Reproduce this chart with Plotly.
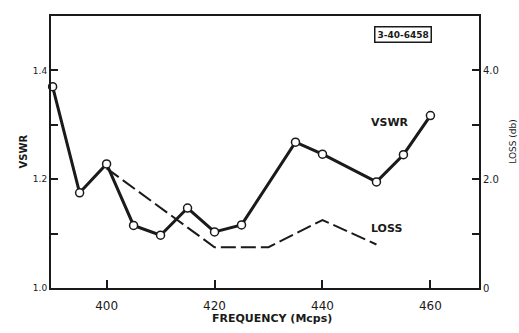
import plotly.graph_objects as go

# Data
freq_vswr = [390, 395, 400, 405, 410, 415, 420, 425, 435, 440, 450, 455, 460]
vswr = [1.37, 1.175, 1.228, 1.115, 1.097, 1.147, 1.103, 1.116, 1.268, 1.246, 1.195, 1.245, 1.317]

freq_loss = [400, 420, 430, 440, 450]
loss_db = [2.2, 0.75, 0.75, 1.25, 0.8]

x_ticks = [400, 420, 440, 460]
y_ticks = [1.0, 1.1, 1.2, 1.3, 1.4]
y_ticktext = ["1.0", "", "1.2", "", "1.4"]
y2_ticks = [0, 1, 2, 3, 4]
y2_ticktext = ["0", "", "2.0", "", "4.0"]

INK = "#1a1a1a"
FONT = "DejaVu Sans"

fig = go.Figure()
fig.add_trace(go.Scatter(
    x=freq_loss, y=loss_db, yaxis="y2", mode="lines",
    line=dict(color=INK, width=2, dash="15px,5px"),
    hoverinfo="skip", showlegend=False,
))
fig.add_trace(go.Scatter(
    x=freq_vswr, y=vswr, mode="lines+markers",
    line=dict(color=INK, width=3),
    marker=dict(symbol="circle", size=8, color="white",
                line=dict(color=INK, width=1.5)),
    cliponaxis=False, showlegend=False,
))

fig.update_layout(
    width=519, height=333,
    margin=dict(l=51, r=40, t=16, b=45),
    paper_bgcolor="white", plot_bgcolor="white",
    font=dict(family=FONT, color=INK),
    xaxis=dict(range=[389.7, 469], tickvals=x_ticks, color=INK,
               ticks="inside", ticklen=8, tickwidth=1.5, tickcolor=INK,
               showline=True, linecolor=INK, linewidth=2, mirror=True,
               showgrid=False, zeroline=False, ticklabelstandoff=6,
               tickfont=dict(size=12, color=INK)),
    yaxis=dict(range=[1.0, 1.5], tickvals=y_ticks, ticktext=y_ticktext, color=INK,
               ticks="inside", ticklen=7, tickwidth=1.5, tickcolor=INK,
               showline=True, linecolor=INK, linewidth=2,
               showgrid=False, zeroline=False,
               tickfont=dict(size=9, color=INK)),
    yaxis2=dict(range=[0, 5], tickvals=y2_ticks, ticktext=y2_ticktext, color=INK,
                overlaying="y", side="right",
                ticks="inside", ticklen=7, tickwidth=1.5, tickcolor=INK,
                showline=True, linecolor=INK, linewidth=2,
                showgrid=False, zeroline=False,
                tickfont=dict(size=10, color=INK)),
)

anns = [
    dict(text="<b>VSWR</b>", xref="paper", yref="paper", x=-0.084, y=0.5,
         textangle=-90, showarrow=False, font=dict(size=10, color=INK)),
    dict(text="LOSS (db)", xref="paper", yref="paper", x=1.095, y=0.54,
         textangle=-90, showarrow=False, font=dict(size=9, color=INK)),
    dict(text="<b>FREQUENCY (Mcps)</b>", xref="paper", yref="paper", x=0.516, y=-0.143,
         showarrow=False, font=dict(size=11, color=INK)),
    dict(text="<b>VSWR</b>", xref="x", yref="y", x=452.5, y=1.305,
         showarrow=False, font=dict(size=11, color=INK)),
    dict(text="<b>LOSS</b>", xref="x", yref="y", x=451.8, y=1.11,
         showarrow=False, font=dict(size=11, color=INK)),
    dict(text="<b>3-40-6458</b>", xref="paper", yref="paper", x=0.89, y=0.963,
         showarrow=False, font=dict(size=9, color=INK),
         bordercolor=INK, borderwidth=1.5, borderpad=2, bgcolor="white"),
]
fig.update_layout(annotations=anns)

fig.write_html("out.html")
